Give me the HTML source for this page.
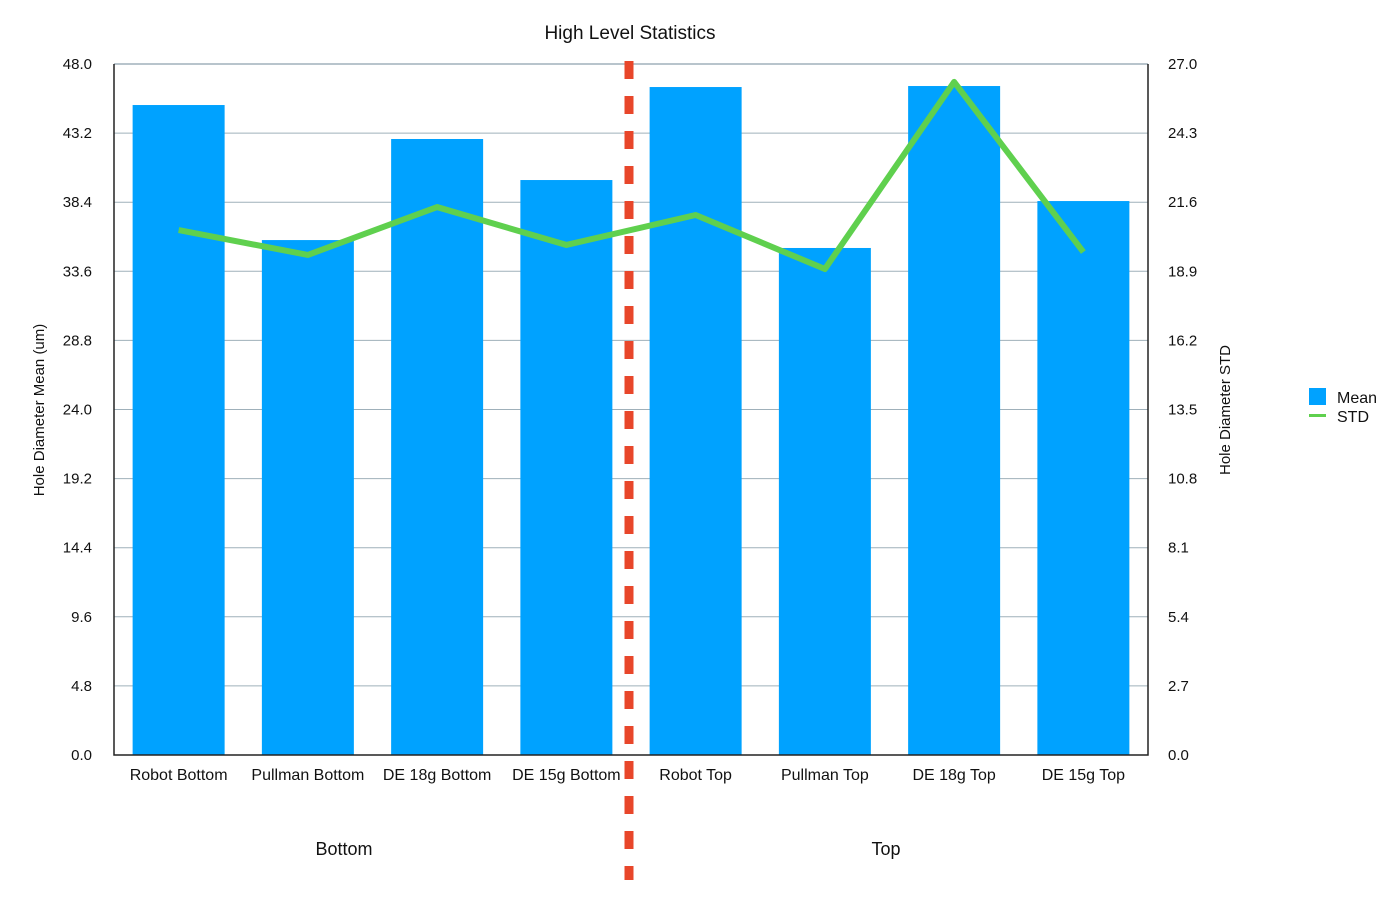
<!DOCTYPE html>
<html><head><meta charset="utf-8"><style>
body{margin:0;background:#fff;}
text{font-family:"Liberation Sans",Arial,sans-serif;fill:#111;}
</style></head><body>
<svg id="c" width="1400" height="895" xmlns="http://www.w3.org/2000/svg"></svg>
<script>
const categories=["Robot Bottom","Pullman Bottom","DE 18g Bottom","DE 15g Bottom","Robot Top","Pullman Top","DE 18g Top","DE 15g Top"];
const meanValues=[45.15,35.77,42.79,39.94,46.40,35.22,46.47,38.48];
const stdValues=[20.51,19.54,21.41,19.93,21.10,18.99,26.30,19.65];
const leftTicks=["0.0","4.8","9.6","14.4","19.2","24.0","28.8","33.6","38.4","43.2","48.0"];
const rightTicks=["0.0","2.7","5.4","8.1","10.8","13.5","16.2","18.9","21.6","24.3","27.0"];
const groups=["Bottom","Top"];
const groupX=[344,886];
const L=114,R=1148,T=64,B=755;
const yL=v=>B-(v/48)*(B-T);
const yR=v=>B-(v/27)*(B-T);
const bw=(R-L)/categories.length;
const xC=i=>L+bw*(i+0.5);
const svg=document.getElementById('c');
const NS="http://www.w3.org/2000/svg";
function mk(tag,attrs,parent){const e=document.createElementNS(NS,tag);for(const k in attrs)e.setAttribute(k,attrs[k]);(parent||svg).appendChild(e);return e;}
leftTicks.forEach((t,i)=>{
  const y=yL(+t);
  if(i>0){const g=mk('line',{x1:L,x2:R,y1:y,y2:y,stroke:i==10?'#b8c4cc':'#9fb0ba','stroke-width':i==10?2:1});
  
  }
  const tx=mk('text',{x:92,y:y+5,'text-anchor':'end','font-size':15});tx.textContent=t;
  
  
});
rightTicks.forEach(t=>{
  const tx=mk('text',{x:1168,y:yR(+t)+5,'font-size':15});tx.textContent=t;
  
  
});
meanValues.forEach((v,i)=>{
  const r=mk('rect',{x:xC(i)-46,y:yL(v),width:92,height:B-yL(v),fill:'#00a2ff'});
  
  
  const tx=mk('text',{x:xC(i),y:780,'text-anchor':'middle','font-size':16});tx.textContent=categories[i];
  
  
});
const ax=mk('path',{d:`M${L} ${T} V${B} H${R} V${T}`,fill:'none',stroke:'#222','stroke-width':1.5});


const pl=mk('polyline',{points:stdValues.map((v,i)=>xC(i)+','+yR(v)).join(' '),fill:'none',stroke:'#5fd04e','stroke-width':6,'stroke-linejoin':'round'});


const dv=mk('line',{x1:629,x2:629,y1:61,y2:880,stroke:'#e8462a','stroke-width':9,'stroke-dasharray':'18 17'});


groups.forEach((g,i)=>{
  const tx=mk('text',{x:groupX[i],y:855,'text-anchor':'middle','font-size':18});tx.textContent=g;
  
  
});
</script>
<svg style="position:absolute;left:0;top:0" width="1400" height="895">
<text x="630" y="39" text-anchor="middle" font-size="19">High Level Statistics</text>
<text transform="translate(44,410) rotate(-90)" text-anchor="middle" font-size="15">Hole Diameter Mean (um)</text>
<text transform="translate(1230,410) rotate(-90)" text-anchor="middle" font-size="15">Hole Diameter STD</text>
<g>
<rect x="1309" y="388" width="17" height="17" fill="#00a2ff"/>
<text x="1337" y="403" font-size="16">Mean</text>
<rect x="1309" y="414" width="17" height="3" fill="#5fd04e"/>
<text x="1337" y="422" font-size="16">STD</text>
</g>
</svg>
</body></html>
